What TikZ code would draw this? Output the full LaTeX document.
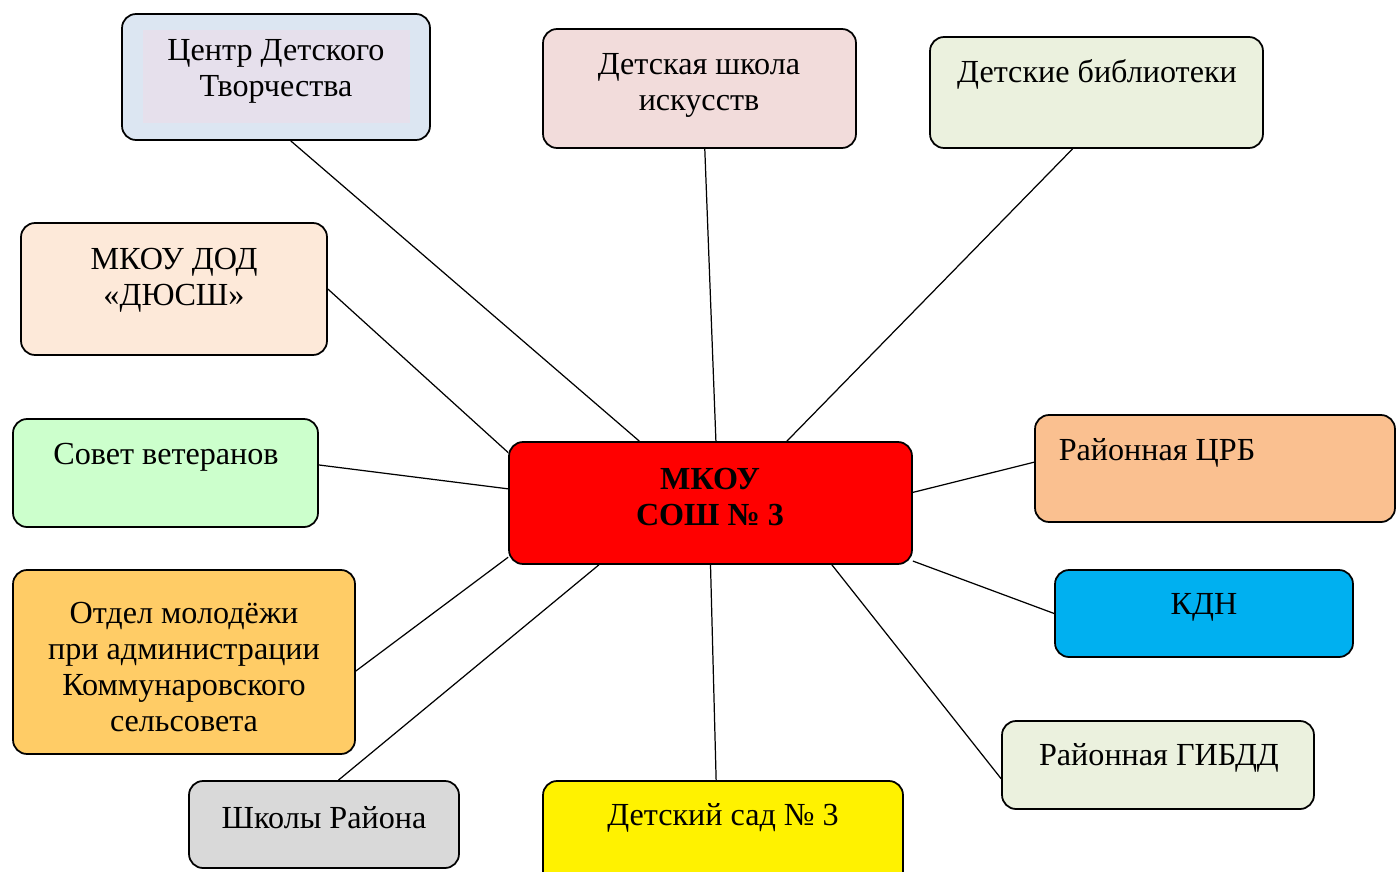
\documentclass[tikz,border=0pt]{standalone}
\usepackage{fontspec}
\setmainfont{Liberation Serif}
\usepackage{tikz}
\usetikzlibrary{positioning}

\definecolor{centrblue}{HTML}{DCE6F2}
\definecolor{centrlila}{HTML}{E6E0EC}
\definecolor{shkolapink}{HTML}{F2DCDB}
\definecolor{biblgreen}{HTML}{EBF1DE}
\definecolor{sportpeach}{HTML}{FDE9D9}
\definecolor{sovetgreen}{HTML}{CCFFCC}
\definecolor{crborange}{HTML}{FAC090}
\definecolor{kdnblue}{HTML}{00B0F0}
\definecolor{otdelgold}{HTML}{FFCC66}
\definecolor{shkolygray}{HTML}{D9D9D9}

\begin{document}
\begin{tikzpicture}[x=0.02cm, y=-0.02cm,
    box/.style={rectangle, rounded corners=0.28cm, draw=black, line width=1pt, inner sep=0pt},
    txt/.style={align=center, inner sep=0pt, font=\fontsize{18.3}{20.5}\selectfont},
    link/.style={draw=black, line width=0.7pt}]
        \useasboundingbox (0,0) rectangle (1396,872);
        % boxes
        \node[box, fill=centrblue, minimum width=6.16cm, minimum height=2.52cm] (centr) at (276,77) {};
        \node[fill=centrlila, inner sep=0pt, minimum width=5.34cm, minimum height=1.86cm] (centr-in) at (276.5,76.5) {};
        \node[box, fill=shkolapink, minimum width=6.26cm, minimum height=2.38cm] (shkola) at (699.5,88.5) {};
        \node[box, fill=biblgreen, minimum width=6.66cm, minimum height=2.22cm] (bibl) at (1096.5,92.5) {};
        \node[box, fill=sportpeach, minimum width=6.12cm, minimum height=2.64cm] (dyussh) at (174,289) {};
        \node[box, fill=sovetgreen, minimum width=6.10cm, minimum height=2.16cm] (sovet) at (165.5,473) {};
        \node[box, fill=red, minimum width=8.06cm, minimum height=2.44cm] (mk) at (710.5,503) {};
        \node[box, fill=crborange, minimum width=7.20cm, minimum height=2.14cm] (crb) at (1215,468.5) {};
        \node[box, fill=kdnblue, minimum width=5.96cm, minimum height=1.74cm] (kdn) at (1204,613.5) {};
        \node[box, fill=biblgreen, minimum width=6.24cm, minimum height=1.76cm] (gibdd) at (1158,765) {};
        \node[box, fill=yellow, minimum width=7.20cm, minimum height=2.20cm] (sad) at (723,836) {};
        \node[box, fill=shkolygray, minimum width=5.40cm, minimum height=1.74cm] (shkoly) at (324,824.5) {};
        \node[box, fill=otdelgold, minimum width=6.84cm, minimum height=3.68cm] (otdel) at (184,662) {};

        % texts
        \node[txt] (centr-t) at (276,71) {Центр Детского\\Творчества};
        \node[txt] (shkola-t) at (699,85) {Детская школа\\искусств};
        \node[txt] (bibl-t) at (1097,74) {Детские библиотеки};
        \node[txt] (dyussh-t) at (174,280) {МКОУ ДОД\\«ДЮСШ»};
        \node[txt] (sovet-t) at (166,457) {Совет ветеранов};
        \node[txt, font=\fontsize{18.3}{20}\selectfont\bfseries] (mk-t) at (710,497) {МКОУ\\СОШ № 3};
        \node[txt] (crb-t) at (1157,453) {Районная ЦРБ};
        \node[txt] (kdn-t) at (1204,607) {КДН};
        \node[txt] (gibdd-t) at (1159,758) {Районная ГИБДД};
        \node[txt] (sad-t) at (723,818) {Детский сад № 3};
        \node[txt] (shkoly-t) at (324,818) {Школы Района};
        \node[txt] (otdel-t) at (184,667) {Отдел молодёжи\\при администрации\\Коммунаровского\\сельсовета};

        % connectors
        \path (centr.283) edge [link] (mk.139);
        \path (shkola.275) edge [link] (mk.85);
        \path (bibl.247) edge [link] (mk.39);
        \path (dyussh.east) edge [link] (mk.166.5);
        \path (sovet.3.4) edge [link] (mk.176.9);
        \path (crb.178.6) edge [link] (mk.3.1);
        \path (kdn.west) edge [link] (mk.344);
        \path (gibdd.185.5) edge [link] (mk.333);
        \path (sad.97.3) edge [link] (mk.270);
        \path (shkoly.72.2) edge [link] (mk.209.8);
        \path (otdel.357.3) edge [link] (mk.195);
    \end{tikzpicture}
\end{document}
